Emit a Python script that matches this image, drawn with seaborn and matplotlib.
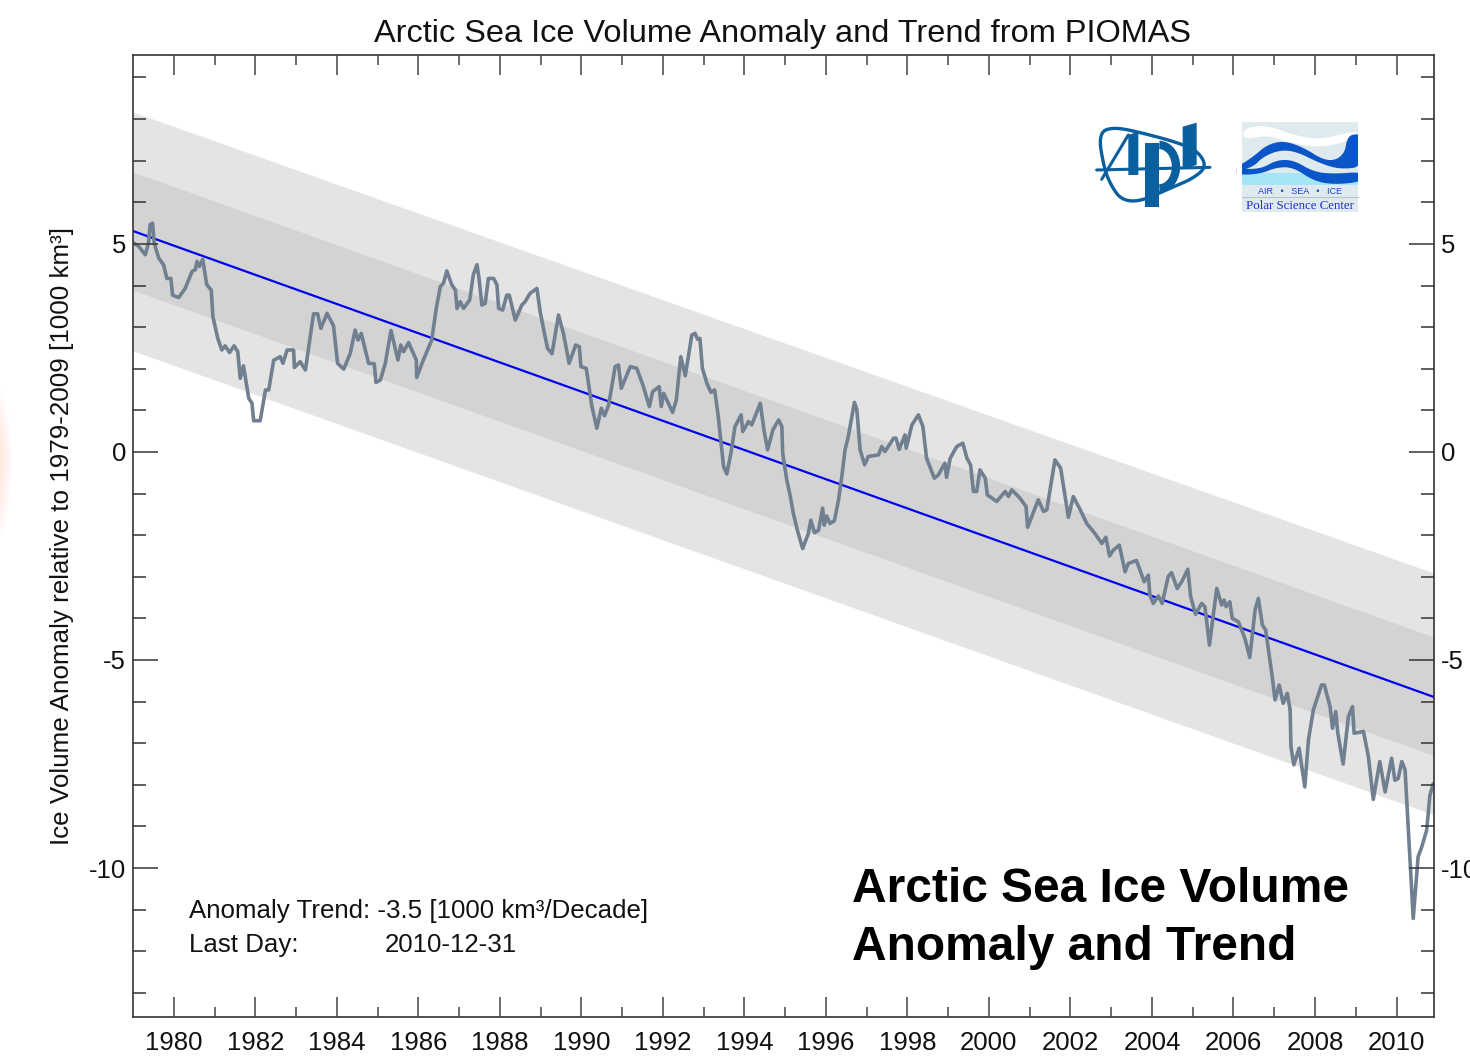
import numpy as np
import pandas as pd
import matplotlib
matplotlib.use('Agg')
import matplotlib.pyplot as plt
from matplotlib.patches import Ellipse, Polygon, Rectangle, Arc
import seaborn as sns

# valores
years_a = [1979.02, 1979.14, 1979.30, 1979.38, 1979.42, 1979.48, 1979.52, 1979.63, 1979.75, 1979.83, 1979.93, 1979.97,
           1980.12, 1980.28, 1980.45, 1980.53, 1980.57, 1980.63, 1980.71, 1980.81, 1980.92, 1980.96,
           1981.08, 1981.18, 1981.26, 1981.37, 1981.48, 1981.57, 1981.63, 1981.71, 1981.84, 1981.92, 1981.96,
           1982.12, 1982.25, 1982.33, 1982.45, 1982.61, 1982.68, 1982.78, 1982.94, 1982.96,
           1983.10, 1983.23, 1983.43, 1983.53, 1983.61, 1983.76, 1983.92,
           1984.02, 1984.17, 1984.33, 1984.45, 1984.52, 1984.60, 1984.78, 1984.92, 1984.96,
           1985.07, 1985.19, 1985.33, 1985.50, 1985.57, 1985.64, 1985.76, 1985.95, 1985.96,
           1986.09, 1986.33, 1986.44, 1986.54, 1986.62, 1986.70, 1986.82, 1986.91, 1986.95,
           1987.03, 1987.11, 1987.26]
anom_a = [5.02, 4.94, 4.74, 5.02, 5.46, 5.50, 5.02, 4.66, 4.50, 4.17, 4.17, 3.77,
          3.71, 3.93, 4.34, 4.38, 4.58, 4.46, 4.63, 4.02, 3.89, 3.25,
          2.73, 2.45, 2.55, 2.39, 2.55, 2.41, 1.77, 2.07, 1.29, 1.17, 0.75,
          0.75, 1.49, 1.49, 2.20, 2.29, 2.13, 2.45, 2.45, 2.03,
          2.17, 1.97, 3.32, 3.32, 2.97, 3.33, 3.03,
          2.13, 1.99, 2.37, 2.93, 2.69, 2.85, 2.13, 2.12, 1.67,
          1.73, 2.13, 2.92, 2.21, 2.57, 2.41, 2.63, 2.21, 1.79,
          2.13, 2.69, 3.45, 3.97, 4.06, 4.35, 4.02, 3.89, 3.45,
          3.61, 3.45, 3.65]

years_b = [1987.35, 1987.44, 1987.49, 1987.56, 1987.64, 1987.72, 1987.85, 1987.93, 1987.97,
           1988.07, 1988.17, 1988.23, 1988.38, 1988.54, 1988.62, 1988.74, 1988.91, 1988.99,
           1989.07, 1989.17, 1989.28, 1989.44, 1989.56, 1989.70, 1989.86, 1989.95, 1989.99,
           1990.12, 1990.26, 1990.38, 1990.49, 1990.57, 1990.67, 1990.83, 1990.91, 1990.98,
           1991.20, 1991.36, 1991.51, 1991.67, 1991.75, 1991.91, 1991.96,
           1992.02, 1992.24, 1992.33, 1992.44, 1992.55, 1992.71, 1992.79, 1992.85, 1992.91, 1992.97,
           1993.08, 1993.18, 1993.27, 1993.35, 1993.49, 1993.57, 1993.67, 1993.77, 1993.92, 1993.96,
           1994.10, 1994.18, 1994.39, 1994.48, 1994.57, 1994.70, 1994.84, 1994.92, 1994.94, 1995.04]
anom_b = [4.26, 4.50, 4.17, 3.53, 3.57, 4.17, 4.17, 4.01, 3.45,
          3.41, 3.77, 3.77, 3.17, 3.53, 3.61, 3.81, 3.93, 3.37,
          2.97, 2.49, 2.36, 3.29, 2.85, 2.13, 2.57, 2.53, 2.05,
          2.01, 1.09, 0.57, 1.05, 0.87, 1.13, 2.05, 2.09, 1.53,
          2.05, 2.01, 1.61, 1.09, 1.45, 1.57, 1.09,
          1.41, 0.95, 1.25, 2.29, 1.83, 2.81, 2.85, 2.71, 2.73, 2.01,
          1.65, 1.43, 1.49, 0.93, -0.35, -0.53, -0.03, 0.61, 0.89, 0.49,
          0.73, 0.65, 1.17, 0.53, 0.05, 0.53, 0.77, 0.61, -0.03, -0.67]

years_c = [1995.12, 1995.20, 1995.30, 1995.43, 1995.57, 1995.63, 1995.72, 1995.82, 1995.92, 1995.96,
           1996.02, 1996.10, 1996.21, 1996.31, 1996.39, 1996.47, 1996.55, 1996.70, 1996.76, 1996.84, 1996.95,
           1997.04, 1997.29, 1997.37, 1997.45, 1997.53, 1997.66, 1997.72, 1997.80, 1997.94, 1997.97,
           1998.11, 1998.27, 1998.38, 1998.47, 1998.66, 1998.76, 1998.92, 1998.96,
           1999.05, 1999.21, 1999.36, 1999.46, 1999.55, 1999.62, 1999.70, 1999.78, 1999.91, 1999.96,
           2000.19, 2000.40, 2000.48, 2000.56, 2000.76, 2000.91, 2000.95,
           2001.21, 2001.34, 2001.42, 2001.62, 2001.76, 2001.95,
           2002.07, 2002.24, 2002.40, 2002.60, 2002.77, 2002.87, 2002.96, 2003.05, 2003.20]
anom_c = [-1.03, -1.47, -1.88, -2.32, -1.96, -1.64, -1.94, -1.88, -1.35, -1.76,
          -1.54, -1.72, -1.65, -1.15, -0.59, 0.05, 0.37, 1.19, 1.01, 0.05, -0.31,
          -0.11, -0.07, 0.13, 0.01, 0.13, 0.33, 0.33, 0.06, 0.41, 0.09,
          0.65, 0.89, 0.61, -0.15, -0.63, -0.55, -0.27, -0.61,
          -0.15, 0.13, 0.21, -0.15, -0.31, -0.95, -0.95, -0.43, -0.63, -1.03,
          -1.19, -0.95, -1.07, -0.91, -1.11, -1.31, -1.81,
          -1.15, -1.43, -1.39, -0.19, -0.39, -1.57,
          -1.07, -1.39, -1.72, -1.96, -2.20, -2.05, -2.50, -2.36, -2.24]

years_d = [2003.34, 2003.42, 2003.62, 2003.75, 2003.81, 2003.91, 2003.95,
           2004.03, 2004.16, 2004.25, 2004.40, 2004.48, 2004.62, 2004.73, 2004.88, 2004.95,
           2005.07, 2005.22, 2005.30, 2005.41, 2005.59, 2005.71, 2005.77, 2005.82, 2005.91, 2005.97,
           2006.12, 2006.28, 2006.40, 2006.53, 2006.61, 2006.71, 2006.79, 2006.94,
           2007.02, 2007.12, 2007.22, 2007.32, 2007.39, 2007.41, 2007.48, 2007.61, 2007.75, 2007.84, 2007.96,
           2008.16, 2008.23, 2008.37, 2008.43, 2008.51, 2008.56, 2008.69, 2008.82, 2008.92, 2008.96,
           2009.19, 2009.31, 2009.43, 2009.59, 2009.72, 2009.88, 2009.96,
           2010.04, 2010.13, 2010.21, 2010.41, 2010.53, 2010.62, 2010.74, 2010.82, 2010.90]
anom_d = [-2.88, -2.68, -2.61, -2.96, -3.12, -2.96, -3.44,
          -3.64, -3.46, -3.64, -2.99, -2.90, -3.28, -3.12, -2.82, -3.48,
          -3.90, -3.64, -3.72, -4.64, -3.28, -3.68, -3.56, -3.72, -3.60, -4.00,
          -4.08, -4.48, -4.94, -3.80, -3.52, -4.16, -4.28, -5.32,
          -5.96, -5.60, -6.04, -5.80, -6.20, -7.08, -7.52, -7.12, -8.05, -6.92, -6.20,
          -5.60, -5.60, -6.12, -6.64, -6.24, -6.76, -7.50, -6.36, -6.12, -6.76,
          -6.72, -7.32, -8.35, -7.44, -8.17, -7.36, -7.89,
          -7.85, -7.44, -7.64, -11.21, -9.73, -9.49, -9.09, -8.25, -7.97]

# tendencia y bandas (valor en los dos extremos)
edge_years = [1979.0, 2010.92]
trend = [5.31, -5.89]
band1_up = [6.73, -4.45]
band1_low = [3.89, -7.30]
band2_up = [8.17, -2.91]
band2_low = [2.43, -8.72]

x_ticks = list(range(1980, 2011, 2))
x_minor = list(range(1981, 2011, 2))
y_ticks = [-10, -5, 0, 5]
y_minor = list(range(-13, 10))

FW, FH = 1470, 1061


def suave(puntos, veces=3):
    # redondea un contorno cerrado cortando esquinas
    p = np.array(puntos, dtype=float)
    for _ in range(veces):
        q = np.roll(p, -1, axis=0)
        p = np.column_stack([0.75 * p + 0.25 * q, 0.25 * p + 0.75 * q]).reshape(-1, 2)
    return p


sns.set_style('white')
plt.rcParams['font.family'] = ['Liberation Sans', 'DejaVu Sans']
plt.rcParams['axes.unicode_minus'] = False

fig = plt.figure(figsize=(FW / 100, FH / 100), dpi=100)
ax = fig.add_axes([133 / FW, 1 - 1017 / FH, 1301 / FW, 962 / FH])

ax.fill_between(edge_years, band2_low, band2_up, color='#e4e4e4', lw=0)
ax.fill_between(edge_years, band1_low, band1_up, color='#d3d3d3', lw=0)

df = pd.DataFrame({'year': years_a + years_b + years_c + years_d,
                   'anom': anom_a + anom_b + anom_c + anom_d})
df_trend = pd.DataFrame({'year': edge_years, 'anom': trend})
sns.lineplot(data=df_trend, x='year', y='anom', color='#0000f0', lw=1.6, ax=ax, estimator=None)
sns.lineplot(data=df, x='year', y='anom', color='#708090', lw=2.6, ax=ax, estimator=None, sort=False)

ax.set_xlim(edge_years)
ax.set_ylim(-13.58, 9.54)
ax.set_xlabel('')
ax.set_ylabel('')
ax.set_xticks(x_ticks)
ax.set_xticks(x_minor, minor=True)
ax.set_yticks(y_ticks)
ax.set_yticks([v for v in y_minor if v not in y_ticks], minor=True)
ax.set_axisbelow(False)
ax.tick_params(axis='x', which='major', direction='in', top=True, bottom=True, length=14.4, width=1.1,
               color='#444444', labelsize=18.5, pad=10, labelcolor='#111111')
ax.tick_params(axis='x', which='minor', direction='in', top=True, bottom=True, length=7.2, width=1.1, color='#444444')
ax.tick_params(axis='y', which='major', direction='in', left=True, right=True, labelright=True, length=18, width=1.1,
               color='#333333', labelsize=18.5, pad=5, labelcolor='#111111')
ax.tick_params(axis='y', which='minor', direction='in', left=True, right=True, length=9.4, width=1.1, color='#333333')
for s in ax.spines.values():
    s.set_color('#333333')
    s.set_linewidth(1.2)

# capa en pixeles para los textos sueltos
over = fig.add_axes([0, 0, 1, 1], facecolor='none')
over.set_xlim(0, FW)
over.set_ylim(FH, 0)
over.axis('off')
over.text(783, 42, 'Arctic Sea Ice Volume Anomaly and Trend from PIOMAS', ha='center', va='baseline',
          fontsize=23.4, color='#111111')
over.text(62, 536, 'Ice Volume Anomaly relative to 1979-2009 [1000 km³]', rotation=90, ha='center', va='center',
          fontsize=18.7, color='#111111')
over.text(189, 918, 'Anomaly Trend: -3.5 [1000 km³/Decade]', fontsize=18.6, color='#111111')
over.text(189, 952, 'Last Day:', fontsize=18.6, color='#111111')
over.text(385, 952, '2010-12-31', fontsize=18.6, color='#111111')
over.text(852, 902, 'Arctic Sea Ice Volume', fontsize=34.5, fontweight='bold', color='black')
over.text(852, 960, 'Anomaly and Trend', fontsize=34.5, fontweight='bold', color='black')

# mancha rojiza en el borde izquierdo
for k in range(1, 9):
    over.add_patch(Ellipse((-6, 462), 4 + 4 * k, 20 + 17 * k, color='#ff9468', alpha=0.03, lw=0))

# logos (coordenadas del recorte)
logo = fig.add_axes([1080 / FW, 1 - 220 / FH, 300 / FW, 110 / FH], facecolor='none')
logo.set_xlim(0, 900)
logo.set_ylim(330, 0)
logo.axis('off')
apl = '#0a5f9e'
aro = [(55, 70), (100, 50), (200, 72), (300, 100), (355, 125), (380, 170), (340, 205), (270, 235), (180, 275),
       (125, 270), (95, 230), (72, 175)]
logo.add_patch(Polygon(suave(aro), fill=False, ec=apl, lw=2.4))
logo.plot([50, 390], [180, 172], color=apl, lw=2.2)
logo.add_patch(Polygon([(145, 75), (175, 65), (175, 195), (145, 195)], color=apl, lw=0))
logo.plot([65, 145], [208, 75], color=apl, lw=2.2)
logo.add_patch(Rectangle((195, 100), 43, 190, color=apl, lw=0))
logo.add_patch(Arc((238, 170), 100, 130, theta1=-90, theta2=90, ec=apl, lw=6))
logo.add_patch(Polygon([(308, 50), (350, 38), (350, 165), (308, 178)], color=apl, lw=0))

logo.add_patch(Rectangle((485, 37), 348, 268, color='#dfeaee', lw=0))
logo.add_patch(Polygon(suave([(490, 55), (560, 45), (640, 75), (720, 90), (830, 60), (830, 85), (720, 115),
                              (620, 95), (560, 75), (490, 90)], 2), color='white', lw=0))
logo.add_patch(Rectangle((485, 190), 348, 35, color='#a4e6f6', lw=0))
logo.add_patch(Polygon(suave([(470, 172), (520, 140), (560, 105), (610, 92), (670, 112), (730, 150), (770, 150),
                              (795, 125), (800, 90), (815, 72), (850, 75), (850, 170), (780, 178), (720, 160),
                              (650, 125), (600, 120), (550, 140), (520, 170), (470, 185)], 2),
                       color='#0a55c8', lw=0, clip_on=True))
logo.add_patch(Polygon(suave([(470, 175), (540, 178), (590, 150), (640, 150), (700, 185), (760, 192), (850, 185),
                              (850, 215), (760, 224), (700, 212), (640, 172), (590, 172), (540, 192), (470, 195)], 2),
                       color='#0a55c8', lw=0))
logo.add_patch(Rectangle((470, 30), 15, 200, color='white', lw=0))
logo.add_patch(Rectangle((833, 30), 25, 200, color='white', lw=0))
logo.plot([485, 833], [262, 262], color='#b4c4cc', lw=0.8)
logo.text(659, 243, 'AIR   •   SEA   •   ICE', ha='center', va='center', fontsize=6.5, color='#2040c0')
logo.text(659, 287, 'Polar Science Center', ha='center', va='center', fontsize=9.3, color='#2030d0',
          family='Liberation Serif')

fig.savefig('out.png', dpi=100)
